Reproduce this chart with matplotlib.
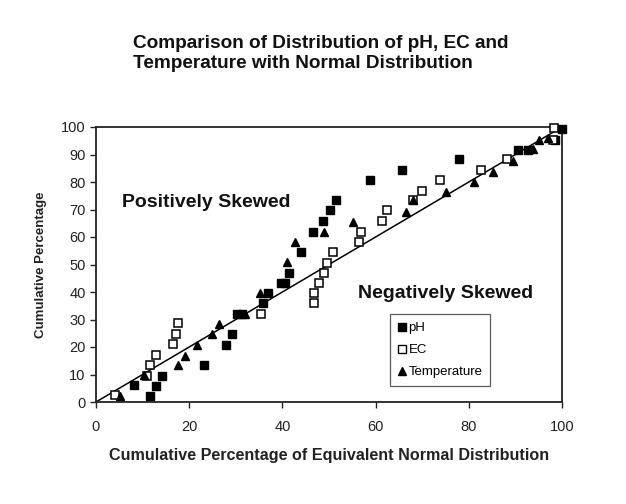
import matplotlib.pyplot as plt
from matplotlib.lines import Line2D

plt.rcParams['font.family'] = ['Liberation Sans', 'DejaVu Sans']

# values (cumulative % of normal dist, cumulative %)
ph_x = [8.2, 11.6, 12.9, 14.1, 23.1, 28.0, 29.2, 30.3, 31.3, 35.8, 36.9, 39.6, 40.6,
        41.4, 43.9, 46.6, 48.8, 50.2, 51.4, 58.7, 65.7, 78.0, 90.6, 92.6, 98.5, 100.1]
ph_y = [6.2, 2.2, 5.8, 9.6, 13.5, 20.7, 24.7, 32.0, 32.0, 35.9, 39.7, 43.2, 43.2,
        47.0, 54.7, 61.9, 65.8, 69.8, 73.5, 80.7, 84.4, 88.5, 91.8, 91.8, 95.3, 99.3]

ec_x = [4.1, 10.9, 11.5, 12.8, 16.6, 17.2, 17.7, 35.4, 46.7, 46.7, 47.8, 48.9, 49.6,
        50.9, 56.4, 56.9, 61.4, 62.5, 68.0, 70.0, 73.9, 82.6, 88.3, 98.0, 98.3]
ec_y = [2.5, 9.6, 13.5, 17.1, 21.0, 24.7, 28.6, 32.0, 36.1, 39.5, 43.4, 46.8, 50.7,
        54.7, 58.3, 61.9, 65.8, 69.8, 73.5, 76.9, 80.7, 84.4, 88.4, 95.3, 99.5]

temp_x = [5.2, 10.2, 17.5, 19.1, 21.7, 24.9, 26.5, 32.0, 35.3, 40.9, 42.8, 48.9, 55.1,
          66.5, 68.0, 75.1, 81.1, 85.1, 89.4, 93.7, 95.1, 96.9]
temp_y = [2.2, 9.8, 13.5, 16.8, 20.7, 24.7, 28.4, 32.0, 39.7, 51.0, 58.3, 61.9, 65.6,
          69.2, 73.5, 76.5, 80.1, 83.7, 87.7, 91.9, 95.3, 95.9]

ref_line = [0, 100]

fig = plt.figure(figsize=(6.26, 5.04), dpi=100)
ax = fig.add_axes([96 / 626, 102 / 504, 466 / 626, 275 / 504])

ax.plot(ref_line, ref_line, color='black', lw=1.1, zorder=1)
ax.plot(ph_x, ph_y, 's', color='black', ms=5.3, mec='black', clip_on=False, zorder=3)
ax.plot(ec_x, ec_y, 's', mfc='white', mec='black', mew=1.1, ms=5.3, clip_on=False, zorder=3)
ax.plot(temp_x, temp_y, '^', color='black', ms=6, clip_on=False, zorder=3)

ax.set_xlim(0, 100)
ax.set_ylim(0, 100)
ax.set_xticks(range(0, 101, 20))
ax.set_yticks(range(0, 101, 10))
ax.tick_params(direction='out', length=4, width=1, labelsize=10.5, colors='#222222')
ax.tick_params(axis='x', pad=9)
for s in ax.spines.values():
    s.set_linewidth(1.3)
    s.set_color('#222222')

ax.set_xlabel('Cumulative Percentage of Equivalent Normal Distribution',
              fontsize=11.6, fontweight='bold', labelpad=10, color='#222222')
ax.set_ylabel('Cumulative Percentage', fontsize=9.5, fontweight='bold',
              labelpad=10, color='#222222')

fig.text(133 / 626, 1 - 53.5 / 504, 'Comparison of Distribution of pH, EC and\nTemperature with Normal Distribution',
         fontsize=13.7, fontweight='bold', ha='left', va='center', linespacing=1.3, color='#111111')

ax.text(0.056, 0.727, 'Positively Skewed', transform=ax.transAxes, fontsize=14,
        fontweight='bold', va='center', ha='left', color='#111111')
ax.text(0.562, 0.396, 'Negatively Skewed', transform=ax.transAxes, fontsize=14,
        fontweight='bold', va='center', ha='left', color='#111111')

handles = [
    Line2D([], [], ls='', marker='s', color='black', ms=5.5),
    Line2D([], [], ls='', marker='s', mfc='white', mec='black', ms=5.5),
    Line2D([], [], ls='', marker='^', color='black', ms=6),
]
leg = ax.legend(handles, ['pH', 'EC', 'Temperature'], loc='upper left',
                bbox_to_anchor=(0.631, 0.32), fontsize=9.5, frameon=True, fancybox=False,
                handlelength=0.6, handletextpad=0.2, labelspacing=0.75, borderpad=0.6,
                borderaxespad=0)
leg.get_frame().set_edgecolor('#333333')
leg.get_frame().set_linewidth(0.9)

fig.savefig('out.png', dpi=100)
